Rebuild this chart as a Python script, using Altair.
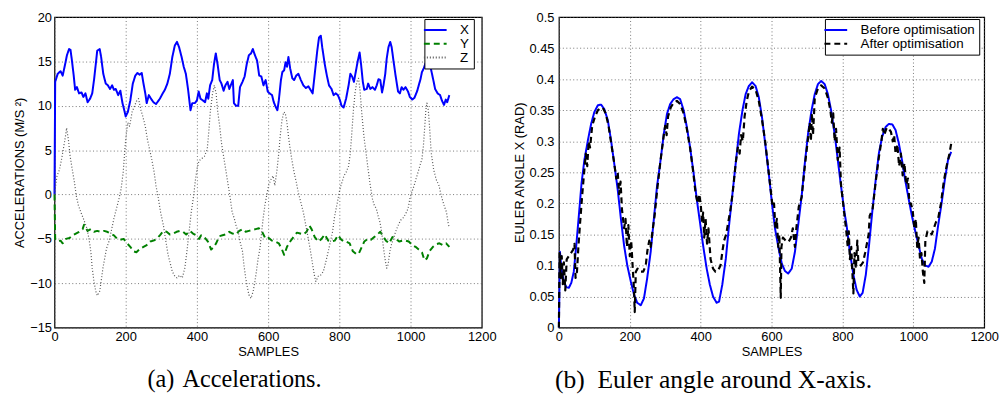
import altair as alt
import pandas as pd

# ---------------- (a) Accelerations ----------------
X_S = [0, 2, 9, 17, 23, 30, 35, 41, 45, 49, 54, 58, 63, 69, 76, 81, 87, 93, 100, 106, 111, 116, 120, 127, 131, 137, 144, 150, 156, 162, 167, 172, 179, 185, 191, 196, 200, 206, 213, 220, 227, 233, 239, 245, 250, 255, 259, 265, 271, 278, 285, 289, 296, 304, 310, 317, 324, 331, 338, 344, 350, 357, 363, 369, 375, 382, 387, 394, 400, 405, 410, 417, 423, 428, 432, 437, 443, 448, 453, 458, 464, 469, 475, 480, 486, 491, 497, 501, 504, 510, 516, 521, 528, 534, 540, 546, 552, 557, 563, 569, 575, 581, 587, 593, 599, 604, 611, 616, 621, 626, 630, 636, 640, 645, 649, 653, 657, 662, 668, 673, 679, 685, 692, 699, 706, 713, 719, 725, 731, 738, 743, 748, 752, 759, 765, 771, 778, 784, 790, 796, 802, 806, 812, 819, 826, 831, 836, 841, 847, 852, 857, 861, 866, 870, 877, 881, 887, 893, 900, 905, 910, 915, 920, 924, 929, 933, 938, 943, 947, 952, 958, 965, 970, 975, 980, 986, 993, 998, 1005, 1011, 1019, 1023, 1028, 1032, 1037, 1042, 1048, 1056, 1065, 1069, 1076, 1083, 1088, 1094, 1099, 1103, 1109]
X_V = [0.0, 12.7, 13.6, 13.9, 13.4, 14.7, 15.7, 16.4, 16.3, 15.1, 13.4, 11.8, 12.1, 11.4, 11.5, 11.0, 11.4, 10.4, 10.8, 11.4, 12.9, 14.7, 16.2, 16.4, 15.5, 13.6, 12.5, 12.3, 11.9, 12.3, 11.8, 11.9, 11.2, 11.7, 10.3, 9.5, 8.8, 9.3, 10.6, 12.5, 13.4, 13.7, 13.5, 13.7, 12.5, 11.4, 10.3, 11.2, 10.8, 10.4, 10.2, 10.4, 10.8, 11.4, 11.8, 12.5, 13.6, 15.5, 16.8, 17.2, 16.6, 15.5, 14.4, 13.6, 11.9, 9.5, 10.3, 10.3, 10.6, 11.6, 10.8, 10.6, 10.4, 11.4, 10.8, 12.3, 12.9, 14.7, 15.9, 14.7, 12.9, 12.5, 11.7, 12.3, 12.7, 11.9, 12.5, 12.9, 10.3, 10.0, 10.0, 12.1, 12.7, 13.3, 14.7, 15.7, 15.9, 16.4, 15.7, 15.1, 13.4, 13.3, 12.3, 12.9, 11.6, 11.4, 11.2, 10.4, 9.9, 9.5, 10.6, 12.9, 13.8, 14.0, 14.9, 14.4, 15.5, 14.2, 13.1, 12.9, 13.4, 13.6, 12.9, 12.3, 12.0, 12.2, 11.8, 11.4, 13.6, 16.2, 17.7, 17.9, 16.6, 14.7, 13.4, 12.3, 11.9, 11.2, 11.4, 11.2, 10.6, 10.0, 9.8, 10.8, 12.3, 13.6, 13.3, 12.7, 14.0, 15.1, 16.0, 14.7, 12.7, 11.8, 11.9, 12.5, 11.9, 12.1, 11.8, 12.3, 13.0, 12.9, 11.5, 12.3, 13.6, 15.3, 16.6, 17.2, 16.6, 15.1, 13.4, 11.6, 11.4, 12.1, 11.8, 12.1, 11.6, 11.0, 10.7, 10.9, 11.7, 12.3, 13.0, 13.8, 14.2, 14.8, 14.7, 14.4, 12.7, 11.9, 11.4, 11.2, 10.6, 10.1, 10.7, 10.4, 11.2]

Y_S = [0, 2, 9, 17, 23, 32, 42, 51, 60, 69, 79, 83, 93, 102, 111, 120, 130, 139, 148, 157, 167, 176, 185, 194, 204, 213, 222, 230, 241, 250, 259, 269, 278, 287, 296, 306, 315, 324, 333, 343, 352, 361, 370, 380, 389, 398, 406, 412, 421, 431, 440, 448, 454, 463, 472, 481, 491, 500, 509, 519, 528, 537, 546, 556, 565, 574, 583, 593, 602, 611, 620, 630, 639, 645, 653, 662, 671, 681, 690, 699, 708, 716, 722, 731, 741, 750, 759, 769, 778, 787, 796, 806, 812, 819, 829, 838, 847, 854, 861, 870, 880, 889, 898, 907, 915, 921, 931, 940, 949, 958, 968, 977, 986, 995, 1005, 1014, 1023, 1032, 1039, 1046, 1053, 1063, 1072, 1081, 1090, 1100, 1109]
Y_V = [0.0, -5.0, -5.3, -5.2, -5.5, -5.0, -4.9, -4.6, -4.4, -4.2, -3.9, -3.4, -4.1, -3.9, -4.2, -4.1, -4.2, -4.1, -4.2, -4.4, -4.6, -5.0, -5.1, -5.0, -5.5, -5.9, -6.4, -6.5, -6.1, -5.9, -5.7, -5.3, -5.2, -5.0, -4.6, -4.1, -4.2, -4.5, -4.4, -4.2, -4.1, -4.2, -4.5, -4.1, -4.4, -4.6, -5.0, -4.6, -4.8, -5.3, -6.2, -5.9, -5.5, -4.7, -4.6, -4.5, -4.2, -4.4, -4.5, -4.1, -3.9, -4.2, -4.1, -4.0, -3.9, -3.8, -4.2, -5.0, -4.9, -5.2, -5.3, -5.5, -6.2, -6.8, -5.9, -5.3, -4.8, -4.3, -4.4, -4.5, -4.2, -3.5, -3.9, -4.8, -5.3, -5.0, -4.5, -5.2, -5.3, -5.2, -4.6, -5.1, -5.3, -5.3, -5.5, -6.4, -6.7, -6.7, -6.1, -5.3, -5.0, -5.1, -4.8, -4.5, -4.2, -4.6, -5.2, -5.5, -4.8, -5.0, -5.3, -5.2, -5.2, -5.3, -5.7, -5.9, -6.2, -6.5, -7.4, -7.2, -6.4, -5.9, -5.6, -5.5, -5.7, -5.5, -5.9]

Z_S = [0, 7, 14, 20, 26, 31, 34, 39, 44, 50, 56, 61, 67, 74, 81, 91, 97, 102, 106, 111, 116, 120, 127, 131, 136, 141, 146, 153, 159, 167, 174, 181, 187, 193, 197, 200, 206, 211, 218, 224, 230, 236, 243, 248, 255, 261, 267, 273, 280, 285, 292, 298, 306, 313, 319, 326, 331, 338, 344, 352, 359, 366, 372, 378, 384, 391, 396, 401, 406, 412, 421, 429, 433, 438, 444, 449, 454, 458, 464, 469, 475, 481, 488, 494, 499, 505, 510, 516, 521, 528, 532, 537, 542, 546, 552, 558, 563, 567, 572, 577, 581, 586, 591, 596, 601, 608, 614, 619, 625, 630, 634, 639, 644, 648, 653, 657, 662, 668, 673, 679, 685, 692, 699, 706, 713, 719, 725, 730, 734, 741, 747, 755, 762, 769, 775, 781, 787, 794, 801, 806, 813, 819, 826, 831, 835, 839, 844, 849, 854, 858, 863, 869, 875, 881, 887, 893, 898, 904, 909, 914, 919, 923, 928, 933, 937, 942, 946, 952, 958, 965, 972, 980, 986, 993, 998, 1004, 1010, 1015, 1021, 1026, 1032, 1036, 1040, 1043, 1046, 1050, 1054, 1058, 1065, 1072, 1080, 1086, 1094, 1101, 1105, 1109]
Z_V = [0.0, 2.1, 2.8, 4.0, 5.4, 6.6, 7.5, 6.2, 4.3, 2.8, 1.4, -0.1, -1.2, -2.0, -2.7, -3.8, -5.0, -6.4, -8.3, -9.8, -10.9, -11.4, -10.9, -9.8, -8.3, -7.2, -6.1, -5.3, -4.2, -2.7, -1.6, -0.5, 0.6, 2.5, 4.7, 6.2, 8.1, 7.7, 9.3, 9.9, 10.5, 10.8, 9.5, 8.8, 7.7, 6.2, 5.1, 4.0, 2.5, 1.0, -0.5, -2.0, -3.5, -5.3, -6.8, -7.9, -8.7, -9.2, -9.4, -9.1, -9.4, -8.3, -6.4, -4.2, -2.0, -0.1, 1.7, 3.0, 3.8, 4.0, 4.3, 5.1, 6.9, 9.5, 11.4, 12.3, 11.4, 9.5, 7.7, 5.8, 4.3, 2.8, 1.0, -0.5, -2.0, -2.7, -3.5, -4.2, -5.3, -6.4, -7.9, -9.4, -10.5, -11.3, -11.7, -10.9, -9.8, -8.7, -7.2, -6.1, -4.6, -2.7, -1.2, -0.1, 1.0, 1.7, 2.1, 1.0, 2.8, 4.7, 6.6, 8.4, 9.3, 9.2, 8.1, 6.6, 5.1, 3.6, 2.5, 1.4, 0.2, -0.9, -2.0, -3.5, -5.0, -6.4, -7.9, -9.1, -9.8, -9.2, -9.1, -8.7, -7.6, -6.4, -5.3, -4.2, -2.4, -1.0, 0.5, 1.2, 2.1, 2.5, 3.2, 4.7, 6.9, 9.2, 11.4, 12.7, 13.1, 11.8, 9.2, 6.6, 4.7, 2.8, 1.0, -0.5, -1.2, -1.6, -2.4, -3.1, -4.2, -5.7, -7.2, -8.3, -7.9, -6.4, -5.7, -5.0, -4.2, -3.5, -2.9, -2.6, -2.2, -1.6, -0.5, 0.3, 1.0, 1.7, 2.5, 3.2, 4.0, 5.4, 7.7, 9.5, 10.3, 9.5, 7.3, 4.7, 2.8, 1.7, 1.0, -0.1, -1.2, -2.0, -3.1, -3.8]

# ---------------- (b) Euler angle around X-axis ----------------
B_S = [0, 3, 7, 14, 21, 28, 35, 42, 49, 57, 64, 72, 82, 91, 100, 110, 119, 128, 138, 147, 156, 166, 175, 184, 193, 203, 212, 221, 231, 240, 249, 259, 268, 277, 287, 296, 305, 314, 324, 333, 342, 352, 361, 370, 380, 389, 398, 407, 417, 426, 435, 445, 452, 461, 471, 480, 490, 499, 508, 518, 527, 536, 545, 555, 564, 573, 582, 592, 601, 610, 620, 629, 638, 647, 657, 666, 675, 685, 694, 703, 713, 722, 731, 740, 750, 759, 768, 778, 787, 796, 806, 812, 821, 831, 840, 849, 857, 866, 875, 885, 894, 903, 912, 922, 931, 941, 950, 959, 968, 977, 987, 996, 1006, 1015, 1024, 1033, 1043, 1052, 1061, 1070, 1080, 1089, 1098, 1107]
B_V = [0.0, 0.122, 0.095, 0.074, 0.065, 0.064, 0.072, 0.09, 0.132, 0.185, 0.233, 0.27, 0.302, 0.328, 0.347, 0.358, 0.359, 0.352, 0.334, 0.302, 0.265, 0.222, 0.175, 0.132, 0.1, 0.074, 0.053, 0.04, 0.036, 0.047, 0.079, 0.122, 0.175, 0.228, 0.27, 0.312, 0.344, 0.36, 0.368, 0.371, 0.368, 0.35, 0.323, 0.291, 0.249, 0.207, 0.17, 0.132, 0.095, 0.069, 0.05, 0.04, 0.042, 0.069, 0.111, 0.164, 0.217, 0.265, 0.312, 0.35, 0.376, 0.389, 0.395, 0.389, 0.371, 0.339, 0.297, 0.249, 0.201, 0.159, 0.127, 0.103, 0.091, 0.087, 0.095, 0.122, 0.164, 0.212, 0.265, 0.312, 0.35, 0.376, 0.392, 0.397, 0.392, 0.376, 0.35, 0.312, 0.27, 0.228, 0.185, 0.164, 0.122, 0.085, 0.061, 0.05, 0.056, 0.085, 0.132, 0.191, 0.238, 0.281, 0.307, 0.323, 0.328, 0.327, 0.318, 0.297, 0.27, 0.238, 0.207, 0.18, 0.154, 0.132, 0.111, 0.1, 0.098, 0.106, 0.127, 0.164, 0.201, 0.238, 0.27, 0.283]

A_S = [0, 2, 5, 8, 11, 14, 18, 22, 28, 34, 40, 44, 47, 51, 55, 60, 66, 72, 76, 80, 84, 88, 94, 102, 110, 118, 124, 132, 140, 148, 156, 162, 166, 170, 174, 178, 184, 188, 192, 196, 200, 204, 208, 212, 214, 217, 222, 230, 238, 245, 250, 255, 259, 264, 270, 278, 287, 296, 300, 304, 308, 316, 324, 333, 342, 352, 361, 370, 378, 386, 392, 396, 400, 404, 407, 410, 414, 418, 422, 428, 435, 442, 450, 456, 462, 466, 472, 478, 484, 490, 499, 505, 510, 514, 519, 524, 530, 536, 545, 555, 564, 573, 582, 590, 598, 603, 607, 611, 615, 619, 622, 626, 628, 632, 640, 648, 655, 660, 666, 670, 677, 685, 694, 703, 708, 711, 714, 717, 722, 731, 740, 750, 759, 766, 770, 774, 778, 782, 787, 792, 796, 800, 806, 811, 815, 818, 821, 825, 828, 831, 834, 838, 842, 845, 852, 858, 864, 868, 874, 877, 885, 894, 903, 910, 914, 918, 925, 931, 937, 942, 946, 950, 955, 960, 965, 970, 975, 980, 985, 989, 993, 998, 1003, 1007, 1011, 1015, 1019, 1023, 1027, 1031, 1034, 1040, 1046, 1052, 1058, 1064, 1070, 1078, 1086, 1094, 1102, 1108]
A_V = [0.0, 0.12, 0.08, 0.115, 0.07, 0.105, 0.06, 0.11, 0.115, 0.12, 0.125, 0.135, 0.08, 0.09, 0.13, 0.17, 0.215, 0.255, 0.28, 0.26, 0.3, 0.29, 0.325, 0.34, 0.35, 0.353, 0.354, 0.345, 0.325, 0.295, 0.265, 0.24, 0.25, 0.215, 0.235, 0.19, 0.16, 0.175, 0.13, 0.165, 0.115, 0.14, 0.1, 0.06, 0.025, 0.09, 0.095, 0.09, 0.09, 0.1, 0.125, 0.14, 0.13, 0.155, 0.18, 0.225, 0.27, 0.31, 0.325, 0.31, 0.34, 0.355, 0.362, 0.365, 0.36, 0.345, 0.32, 0.29, 0.255, 0.215, 0.2, 0.215, 0.2, 0.17, 0.185, 0.145, 0.175, 0.135, 0.16, 0.11, 0.095, 0.09, 0.093, 0.1, 0.125, 0.14, 0.15, 0.17, 0.19, 0.215, 0.265, 0.29, 0.28, 0.31, 0.3, 0.34, 0.365, 0.38, 0.388, 0.383, 0.365, 0.335, 0.3, 0.26, 0.22, 0.195, 0.2, 0.16, 0.175, 0.13, 0.15, 0.048, 0.13, 0.145, 0.14, 0.138, 0.145, 0.16, 0.13, 0.16, 0.195, 0.21, 0.26, 0.305, 0.33, 0.3, 0.345, 0.31, 0.37, 0.385, 0.39, 0.385, 0.37, 0.35, 0.33, 0.345, 0.3, 0.32, 0.27, 0.29, 0.23, 0.21, 0.18, 0.155, 0.13, 0.155, 0.11, 0.13, 0.09, 0.055, 0.12, 0.095, 0.14, 0.105, 0.1, 0.105, 0.12, 0.132, 0.15, 0.18, 0.19, 0.235, 0.275, 0.3, 0.32, 0.31, 0.322, 0.32, 0.315, 0.3, 0.31, 0.28, 0.295, 0.26, 0.28, 0.245, 0.265, 0.23, 0.24, 0.2, 0.2, 0.19, 0.16, 0.175, 0.13, 0.145, 0.11, 0.12, 0.09, 0.072, 0.14, 0.155, 0.155, 0.15, 0.16, 0.17, 0.175, 0.2, 0.235, 0.26, 0.28, 0.3]

X_TICKS = [0, 200, 400, 600, 800, 1000, 1200]
ACC_TICKS = [-15, -10, -5, 0, 5, 10, 15, 20]
EUL_TICKS = [0, 0.05, 0.1, 0.15, 0.2, 0.25, 0.3, 0.35, 0.4, 0.45, 0.5]

ACC_NAMES = ["X", "Y", "Z"]
EUL_NAMES = ["Before optimisation", "After optimisation"]

SANS = "Liberation Sans"
SERIF = "Liberation Serif"


def frame(samples, values, name):
    return pd.DataFrame({"s": samples, "v": values, "series": name})


def x_enc():
    return alt.X("s:Q", scale=alt.Scale(domain=[0, 1200], nice=False),
                 axis=alt.Axis(values=X_TICKS, format="d", title="SAMPLES",
                               labelFlush=False, labelPadding=3, titlePadding=2))


def legend(lx):
    return alt.Legend(title=None, orient="none", legendX=lx, legendY=2,
                      fillColor="white", strokeColor="black", padding=4,
                      symbolType="M-2,0H2", symbolSize=132, symbolStrokeWidth=2,
                      labelFont=SANS, labelFontSize=13.5, labelColor="black",
                      labelOffset=18, rowPadding=0, cornerRadius=0)


acc_color = alt.Scale(domain=ACC_NAMES, range=["#0000ff", "#008000", "#555555"])
acc_dash = alt.Scale(domain=ACC_NAMES, range=[[1, 0], [6, 4], [1, 2]])
acc_y = alt.Y("v:Q", scale=alt.Scale(domain=[-15, 20], nice=False),
              axis=alt.Axis(values=ACC_TICKS, format="d", labelFlush=False,
                            title="ACCELERATIONS (M/S ²)", labelPadding=3, titlePadding=3))


def acc_layer(df, width):
    return alt.Chart(df).mark_line(strokeWidth=width, strokeJoin="round").encode(
        x=x_enc(), y=acc_y,
        color=alt.Color("series:N", scale=acc_color, legend=legend(374)),
        strokeDash=alt.StrokeDash("series:N", scale=acc_dash, legend=legend(374)),
    )


left = alt.layer(
    acc_layer(frame(X_S, X_V, "X"), 2),
    acc_layer(frame(Y_S, Y_V, "Y"), 2),
    acc_layer(frame(Z_S, Z_V, "Z"), 1.2),
).properties(
    width=432, height=314,
    title=alt.Title("(a)\u2004Accelerations.", orient="bottom", anchor="start",
                    frame="group", dx=94, offset=10, font=SERIF, fontSize=24.5,
                    fontWeight="normal", color="black"),
)

eul_color = alt.Scale(domain=EUL_NAMES, range=["#0000ff", "#000000"])
eul_dash = alt.Scale(domain=EUL_NAMES, range=[[1, 0], [6, 4]])
eul_y = alt.Y("v:Q", scale=alt.Scale(domain=[0, 0.5], nice=False),
              axis=alt.Axis(values=EUL_TICKS, format="~g", labelFlush=False,
                            title="EULER ANGLE X (RAD)", labelPadding=5, titlePadding=2))


def eul_layer(df, width):
    return alt.Chart(df).mark_line(strokeWidth=width, strokeJoin="round").encode(
        x=x_enc(), y=eul_y,
        color=alt.Color("series:N", scale=eul_color, legend=legend(269)),
        strokeDash=alt.StrokeDash("series:N", scale=eul_dash, legend=legend(269)),
    )


right = alt.layer(
    eul_layer(frame(B_S, B_V, "Before optimisation"), 2),
    eul_layer(frame(A_S, A_V, "After optimisation"), 2.2),
).properties(
    width=430, height=314,
    title=alt.Title("(b)\u2002Euler angle around X-axis.", orient="bottom", anchor="start",
                    frame="group", dx=-4, offset=10, font=SERIF, fontSize=25.8,
                    fontWeight="normal", color="black"),
)

chart = alt.hconcat(left, right, spacing=78, bounds="flush").resolve_scale(
    color="independent", strokeDash="independent"
).configure(
    padding={"left": 5, "top": 0, "right": 0, "bottom": 0},
    background="white",
).configure_view(
    stroke="black", strokeWidth=1.2,
).configure_axis(
    grid=True, gridColor="#555555", gridDash=[1, 2.5], gridWidth=0.8, gridOpacity=1,
    ticks=False, domain=False,
    labelFont=SANS, labelFontSize=13, labelColor="black",
    titleFont=SANS, titleFontSize=13, titleFontWeight="normal", titleColor="black",
)

chart.save("out.html", embed_options={"renderer": "svg", "actions": False})
